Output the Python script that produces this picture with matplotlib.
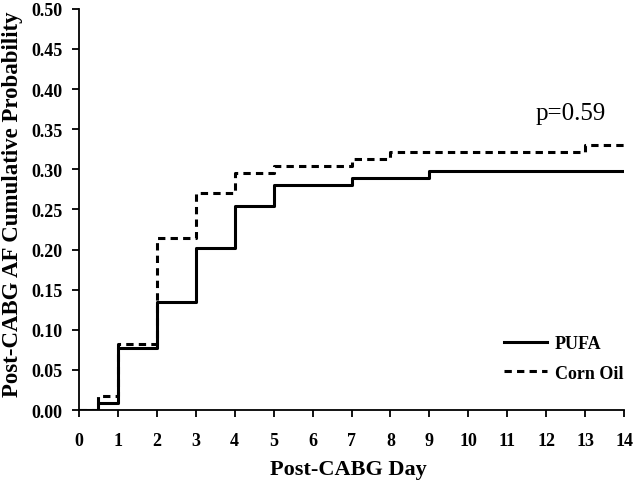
import matplotlib
matplotlib.use("Agg")
import matplotlib.pyplot as plt

# Data (step functions: value holds from time t_i until next time)
pufa_t = [0, 0.5, 1, 2, 3, 4, 5, 7, 9, 14]
pufa_y = [0.0, 0.009, 0.077, 0.135, 0.202, 0.254, 0.281, 0.289, 0.298, 0.298]
corn_t = [0, 0.5, 1, 2, 3, 4, 5, 7, 8, 13, 14]
corn_y = [0.0, 0.017, 0.082, 0.214, 0.270, 0.295, 0.304, 0.313, 0.322, 0.330, 0.330]
xticks = list(range(0, 15))
yticks = [0.00, 0.05, 0.10, 0.15, 0.20, 0.25, 0.30, 0.35, 0.40, 0.45, 0.50]

plt.rcParams['font.family'] = ['Liberation Serif', 'DejaVu Serif']

fig = plt.figure(figsize=(6.36, 4.81), dpi=100)
ax = fig.add_axes([0.1242, 0.1455, 0.857, 0.834])

ax.step(pufa_t, pufa_y, where='post', color='black', lw=2.2, label='PUFA')
ax.step(corn_t, corn_y, where='post', color='black', lw=2.2, linestyle=(0, (2.4, 1.7)), label='Corn Oil')

ax.set_xlim(0, 14)
ax.set_ylim(0, 0.5)
ax.set_xticks(xticks)
ax.set_yticks(yticks)
ax.set_yticklabels([f"{v:.2f}" for v in yticks])
for s in ['top', 'right']:
    ax.spines[s].set_visible(False)
for s in ['left', 'bottom']:
    ax.spines[s].set_linewidth(1.3)
ax.tick_params(direction='out', length=5, width=1.3, labelsize=13)
ax.tick_params(axis='x', pad=11)
ax.tick_params(axis='y', pad=7)
for lab in ax.get_xticklabels() + ax.get_yticklabels():
    lab.set_fontweight('bold')

ax.set_xlabel('Post-CABG Day', fontsize=16, fontweight='bold')
ax.set_ylabel('Post-CABG AF Cumulative Probability', fontsize=16.5, fontweight='bold')
ax.xaxis.set_label_coords(0.494, -0.121)
ax.yaxis.set_label_coords(-0.102, 0.515)

ax.text(12.64, 0.3626, 'p=0.59', fontsize=18, ha='center', va='baseline')

leg = ax.legend(loc='upper left', bbox_to_anchor=(0.780, 0.187), frameon=False,
                prop={'weight': 'bold', 'size': 13}, handlelength=2.4, handletextpad=0.4,
                labelspacing=0.7, borderpad=0, borderaxespad=0)

fig.savefig('out.png', dpi=100)
